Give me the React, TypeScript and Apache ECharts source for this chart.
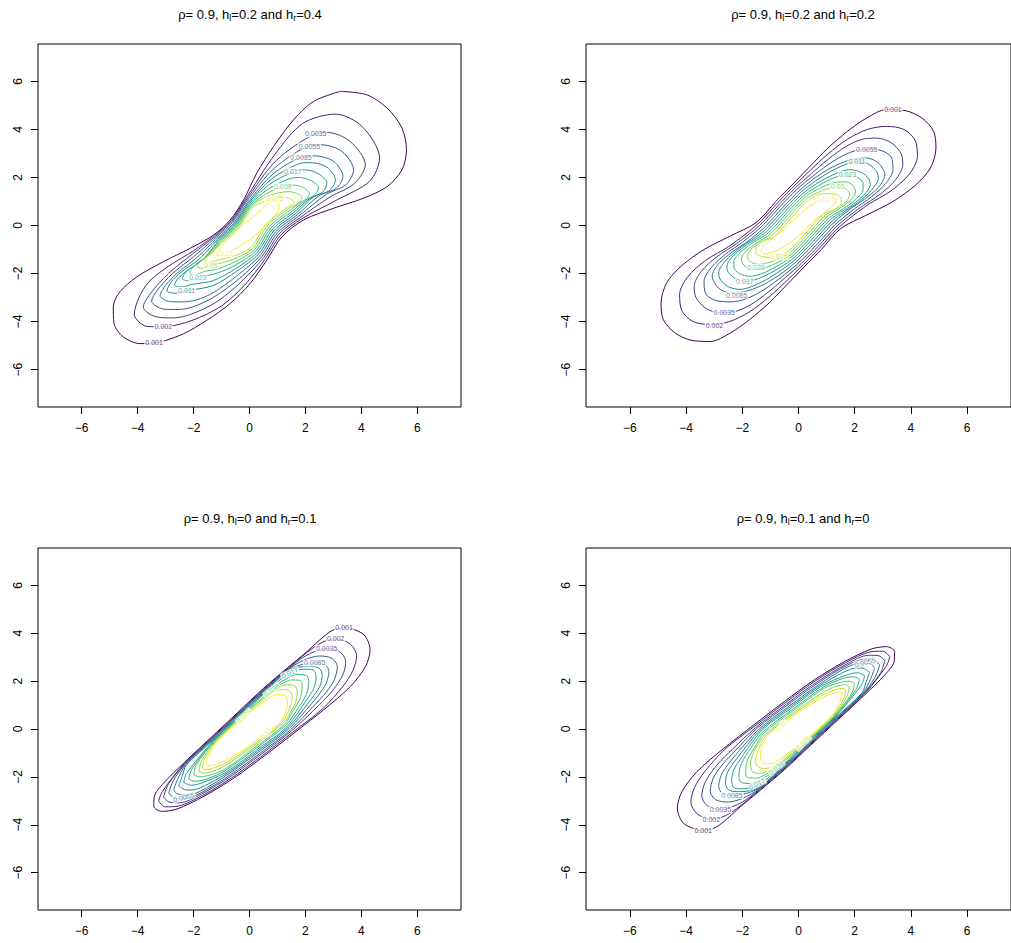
import React, { useEffect, useRef } from "react";
import * as echarts from "echarts";

const levels = ["0.001","0.002","0.0035","0.0055","0.0085","0.011","0.017","0.023","0.038","0.05","0.075","0.11"];
const levelColors = ["#440154","#482173","#433E85","#38598C","#2D708E","#25858E","#1E9B8A","#2BB07F","#51C56A","#85D54A","#C2DF23","#FDE725"];
const tickValues = [-6, -4, -2, 0, 2, 4, 6];
const axisMin = -7.56;
const axisMax = 7.56;

const panelRho = ["0.9", "0.9", "0.9", "0.9"];
const panelHl = ["0.2", "0.2", "0", "0.1"];
const panelHr = ["0.4", "0.2", "0.1", "0"];

// Panel 1 (hl=0.2, hr=0.4)
const p1c1 = [[3.25,5.59],[4.20,5.44],[4.92,4.89],[5.45,4.06],[5.61,3.15],[5.45,2.32],[4.92,1.62],[4.08,1.14],[3.01,0.72],[1.93,0.23],[1.16,-0.47],[0.62,-1.44],[0.02,-2.42],[-0.69,-3.25],[-1.53,-3.95],[-2.36,-4.51],[-3.20,-4.85],[-3.91,-4.92],[-4.51,-4.64],[-4.84,-4.09],[-4.87,-3.39],[-4.63,-2.76],[-4.03,-2.14],[-3.08,-1.51],[-2.12,-0.95],[-1.29,-0.40],[-0.69,0.23],[-0.21,1.07],[0.26,2.18],[0.86,3.29],[1.58,4.41],[2.29,5.17]];
const p1c2 = [[-1.26,-0.43],[-0.66,0.20],[-0.18,1.04],[0.90,2.95],[1.90,4.25],[3.07,4.64],[4.02,4.13],[4.65,2.81],[4.30,1.85],[3.10,1.05],[1.875,0.285],[1.105,-0.415],[0.565,-1.385],[-0.15,-2.45],[-1.00,-3.35],[-2.05,-3.95],[-3.08,-4.22],[-3.68,-4.20],[-4.12,-3.70],[-3.95,-3.00],[-3.60,-2.35],[-2.90,-1.70],[-2.00,-1.05]];
const p1c3 = [[-1.23,-0.46],[-0.63,0.17],[-0.15,1.01],[0.95,2.70],[2.35,3.82],[2.77,3.88],[3.60,3.50],[4.14,2.53],[3.75,1.75],[2.90,1.20],[1.82,0.34],[1.05,-0.36],[0.51,-1.33],[-0.30,-2.35],[-1.20,-3.20],[-2.10,-3.70],[-2.75,-3.85],[-3.35,-3.80],[-3.80,-3.40],[-3.55,-2.85],[-2.90,-2.00],[-2.05,-1.20]];
const p1c4 = [[-1.20,-0.49],[-0.60,0.14],[-0.12,0.98],[0.90,2.40],[2.17,3.32],[2.59,3.36],[3.31,3.08],[3.72,2.32],[3.45,1.70],[2.75,1.30],[1.765,0.395],[0.995,-0.305],[0.455,-1.275],[-0.35,-2.20],[-1.30,-3.00],[-2.05,-3.40],[-2.55,-3.50],[-3.08,-3.48],[-3.50,-3.15],[-3.30,-2.70],[-2.75,-2.00],[-2.00,-1.30]];
const p1c5 = [[-1.16,-0.53],[-0.56,0.10],[-0.08,0.94],[0.85,2.15],[1.87,2.85],[2.35,2.90],[3.01,2.67],[3.34,2.04],[3.10,1.55],[2.50,1.25],[1.71,0.45],[0.94,-0.25],[0.40,-1.22],[-0.40,-2.05],[-1.30,-2.80],[-1.90,-3.10],[-2.40,-3.18],[-2.85,-3.17],[-3.20,-2.92],[-3.00,-2.50],[-2.60,-2.00],[-1.90,-1.35]];
const p1c6 = [[-1.13,-0.56],[-0.53,0.07],[-0.05,0.91],[0.80,1.95],[1.72,2.55],[2.17,2.62],[2.77,2.43],[3.07,1.90],[2.85,1.45],[2.30,1.20],[1.655,0.505],[0.885,-0.195],[0.345,-1.165],[-0.45,-1.90],[-1.30,-2.50],[-2.25,-2.72],[-2.65,-2.82],[-2.95,-2.72],[-2.80,-2.35],[-2.45,-1.95],[-1.80,-1.40]];
const p1c7 = [[-1.10,-0.59],[-0.50,0.04],[-0.02,0.88],[0.70,1.70],[1.58,2.25],[1.96,2.32],[2.47,2.15],[2.77,1.76],[2.60,1.38],[2.15,1.12],[1.60,0.56],[0.83,-0.14],[0.29,-1.11],[-0.50,-1.80],[-1.30,-2.30],[-2.05,-2.45],[-2.40,-2.56],[-2.68,-2.48],[-2.55,-2.20],[-2.20,-1.85],[-1.65,-1.40]];
const p1c8 = [[-1.07,-0.62],[-0.47,0.01],[0.01,0.85],[0.65,1.50],[1.38,1.93],[1.79,2.00],[2.20,1.87],[2.47,1.59],[2.35,1.30],[2.00,1.05],[1.545,0.615],[0.775,-0.085],[0.235,-1.055],[-0.50,-1.65],[-1.20,-2.00],[-1.85,-2.17],[-2.18,-2.30],[-2.40,-2.22],[-2.30,-1.98],[-2.00,-1.70],[-1.55,-1.30]];
const p1c9 = [[-1.04,-0.65],[-0.44,-0.02],[0.04,0.82],[0.60,1.32],[1.19,1.62],[1.58,1.68],[1.90,1.59],[2.14,1.34],[2.05,1.12],[1.80,0.95],[1.49,0.67],[0.72,-0.03],[0.18,-1.00],[-0.50,-1.50],[-1.10,-1.80],[-1.62,-1.92],[-1.95,-2.05],[-2.13,-1.97],[-2.05,-1.78],[-1.80,-1.50],[-1.40,-1.18]];
const p1c10 = [[-1.01,-0.68],[-0.41,-0.05],[0.07,0.79],[0.55,1.17],[1.05,1.36],[1.40,1.41],[1.69,1.34],[1.87,1.18],[1.80,0.98],[1.435,0.725],[0.665,0.025],[0.125,-0.945],[-0.56,-1.40],[-1.38,-1.67],[-1.70,-1.78],[-1.87,-1.72],[-1.80,-1.55],[-1.55,-1.30],[-1.25,-1.00]];
const p1c11 = [[-0.975,-0.715],[-0.375,-0.085],[0.105,0.755],[0.55,1.00],[0.92,1.11],[1.19,1.18],[1.46,1.12],[1.60,0.95],[1.40,0.78],[0.61,0.08],[0.07,-0.89],[-0.50,-1.25],[-1.12,-1.43],[-1.45,-1.55],[-1.60,-1.47],[-1.50,-1.30],[-1.25,-1.05]];
const p1c12 = [[-0.26,0.00],[0.30,0.52],[0.62,0.90],[0.82,1.00],[1.04,0.92],[1.05,0.70],[0.74,0.23],[0.145,-0.47],[-0.57,-1.02],[-0.83,-1.18],[-1.05,-1.27],[-1.17,-1.23],[-1.00,-0.88]];
const p1Contours = [p1c1,p1c2,p1c3,p1c4,p1c5,p1c6,p1c7,p1c8,p1c9,p1c10,p1c11,p1c12];
const p1Labels = [[2,2.37,3.82,0],[3,2.14,3.31,0],[4,1.84,2.85,0],[6,1.55,2.27,0],[8,1.19,1.62,0],[10,0.90,1.11,0],[11,-0.83,-1.18,0],[9,-1.38,-1.67,0],[7,-1.85,-2.17,0],[5,-2.25,-2.70,0],[1,-3.08,-4.21,0],[0,-3.41,-4.86,0]];

// Panel 2 (hl=0.2, hr=0.2)
const p2c1 = [[-0.81,1.00],[-0.23,1.69],[0.35,2.39],[1.04,3.22],[1.74,3.92],[2.43,4.48],[3.13,4.83],[3.82,4.78],[4.40,4.47],[4.81,3.92],[4.89,3.22],[4.69,2.39],[4.17,1.69],[3.36,1.00],[2.43,0.44],[1.51,-0.12],[0.81,-1.00],[0.23,-1.69],[-0.35,-2.39],[-1.04,-3.22],[-1.74,-3.92],[-2.43,-4.48],[-3.13,-4.83],[-3.82,-4.78],[-4.40,-4.47],[-4.81,-3.92],[-4.89,-3.22],[-4.69,-2.39],[-4.17,-1.69],[-3.36,-1.00],[-2.43,-0.44],[-1.51,0.12]];
const p2c2 = [[-0.75,0.94],[-0.17,1.63],[0.40,2.28],[1.05,2.98],[1.75,3.60],[2.45,4.00],[3.13,4.13],[3.75,4.00],[4.15,3.55],[4.23,2.88],[3.95,2.15],[3.30,1.45],[2.45,0.85],[1.45,-0.06],[0.75,-0.94],[0.17,-1.63],[-0.40,-2.28],[-1.05,-2.98],[-1.75,-3.60],[-2.45,-4.00],[-3.13,-4.13],[-3.75,-4.00],[-4.15,-3.55],[-4.23,-2.88],[-3.95,-2.15],[-3.30,-1.45],[-2.45,-0.85],[-1.45,0.06]];
const p2c3 = [[-0.69,0.88],[-0.11,1.57],[0.45,2.15],[1.05,2.75],[1.70,3.30],[2.30,3.60],[2.78,3.64],[3.30,3.45],[3.65,3.00],[3.71,2.53],[3.45,1.90],[2.90,1.30],[2.20,0.75],[1.39,0.00],[0.69,-0.88],[0.11,-1.57],[-0.45,-2.15],[-1.05,-2.75],[-1.70,-3.30],[-2.30,-3.60],[-2.78,-3.64],[-3.30,-3.45],[-3.65,-3.00],[-3.71,-2.53],[-3.45,-1.90],[-2.90,-1.30],[-2.20,-0.75],[-1.39,0.00]];
const p2c4 = [[-0.63,0.82],[-0.05,1.51],[0.50,2.05],[1.20,2.65],[1.85,3.05],[2.43,3.18],[2.95,3.12],[3.30,2.85],[3.36,2.32],[3.10,1.75],[2.60,1.20],[2.00,0.70],[1.33,0.06],[0.63,-0.82],[0.05,-1.51],[-0.50,-2.05],[-1.20,-2.65],[-1.85,-3.05],[-2.43,-3.18],[-2.95,-3.12],[-3.30,-2.85],[-3.36,-2.32],[-3.10,-1.75],[-2.60,-1.20],[-2.00,-0.70],[-1.33,-0.06]];
const p2c5 = [[-0.56,0.75],[0.02,1.44],[0.55,1.95],[1.15,2.40],[1.80,2.72],[2.43,2.81],[2.85,2.60],[3.07,2.11],[2.85,1.60],[2.35,1.10],[1.80,0.65],[1.26,0.13],[0.56,-0.75],[-0.02,-1.44],[-0.55,-1.95],[-1.15,-2.40],[-1.80,-2.72],[-2.43,-2.81],[-2.85,-2.60],[-3.07,-2.11],[-2.85,-1.60],[-2.35,-1.10],[-1.80,-0.65],[-1.26,-0.13]];
const p2c6 = [[-0.50,0.69],[0.08,1.38],[0.60,1.85],[1.30,2.35],[2.08,2.66],[2.50,2.55],[2.78,2.25],[2.84,1.97],[2.58,1.45],[2.10,0.95],[1.60,0.55],[1.20,0.19],[0.50,-0.69],[-0.08,-1.38],[-0.60,-1.85],[-1.30,-2.35],[-2.08,-2.66],[-2.50,-2.55],[-2.78,-2.25],[-2.84,-1.97],[-2.58,-1.45],[-2.10,-0.95],[-1.60,-0.55],[-1.20,-0.19]];
const p2c7 = [[-0.44,0.63],[0.14,1.32],[0.65,1.75],[1.30,2.15],[1.85,2.33],[2.25,2.20],[2.50,1.95],[2.55,1.70],[2.35,1.30],[1.90,0.85],[1.50,0.55],[1.14,0.25],[0.44,-0.63],[-0.14,-1.32],[-0.65,-1.75],[-1.30,-2.15],[-1.85,-2.33],[-2.25,-2.20],[-2.50,-1.95],[-2.55,-1.70],[-2.35,-1.30],[-1.90,-0.85],[-1.50,-0.55],[-1.14,-0.25]];
const p2c8 = [[-0.38,0.57],[0.20,1.26],[0.70,1.65],[1.25,1.98],[1.74,2.12],[2.10,2.00],[2.30,1.75],[2.30,1.50],[2.05,1.10],[1.60,0.70],[1.08,0.31],[0.38,-0.57],[-0.20,-1.26],[-0.70,-1.65],[-1.25,-1.98],[-1.74,-2.12],[-2.10,-2.00],[-2.30,-1.75],[-2.30,-1.50],[-2.05,-1.10],[-1.60,-0.70],[-1.08,-0.31]];
const p2c9 = [[-0.32,0.51],[0.26,1.20],[0.75,1.55],[1.25,1.78],[1.68,1.82],[1.95,1.65],[2.03,1.40],[1.85,1.05],[1.45,0.70],[1.02,0.37],[0.32,-0.51],[-0.26,-1.20],[-0.75,-1.55],[-1.25,-1.78],[-1.68,-1.82],[-1.95,-1.65],[-2.03,-1.40],[-1.85,-1.05],[-1.45,-0.70],[-1.02,-0.37]];
const p2c10 = [[-0.26,0.45],[0.32,1.14],[0.85,1.45],[1.39,1.62],[1.70,1.52],[1.82,1.30],[1.70,1.00],[1.35,0.70],[0.96,0.43],[0.26,-0.45],[-0.32,-1.14],[-0.85,-1.45],[-1.39,-1.62],[-1.70,-1.52],[-1.82,-1.30],[-1.70,-1.00],[-1.35,-0.70],[-0.96,-0.43]];
const p2c11 = [[-0.20,0.39],[0.38,1.08],[0.90,1.33],[1.27,1.30],[1.52,1.15],[1.52,0.90],[1.25,0.65],[0.90,0.49],[0.20,-0.39],[-0.38,-1.08],[-0.90,-1.33],[-1.27,-1.30],[-1.52,-1.15],[-1.52,-0.90],[-1.25,-0.65],[-0.90,-0.49]];
const p2c12 = [[-0.21,0.21],[0.30,0.72],[0.87,1.09],[1.20,1.18],[1.33,1.05],[1.10,0.70],[0.50,0.15],[0.21,-0.21],[-0.30,-0.72],[-0.87,-1.09],[-1.20,-1.18],[-1.33,-1.05],[-1.10,-0.70],[-0.50,-0.15]];
const p2Contours = [p2c1,p2c2,p2c3,p2c4,p2c5,p2c6,p2c7,p2c8,p2c9,p2c10,p2c11,p2c12];
const p2Labels = [[0,3.36,4.82,0],[3,2.43,3.18,0],[5,2.08,2.66,0],[7,1.74,2.12,0],[9,1.39,1.62,0],[11,0.87,1.09,0],[10,-0.69,-1.30,0],[8,-1.51,-1.76,0],[6,-1.91,-2.34,0],[4,-2.20,-2.90,0],[2,-2.64,-3.64,0],[1,-2.99,-4.16,0]];

// Panel 3 (hl=0, hr=0.1)
const p3c1 = [[3.50,4.25],[4.09,3.94],[4.31,3.31],[4.15,2.62],[3.61,1.78],[2.66,0.81],[1.59,-0.17],[0.51,-1.14],[-0.56,-2.05],[-1.63,-2.81],[-2.59,-3.34],[-3.13,-3.44],[-3.42,-3.23],[-3.40,-2.81],[-3.07,-2.26],[-2.35,-1.42],[-1.40,-0.38],[-0.44,0.67],[0.51,1.71],[1.35,2.55],[2.06,3.24],[2.66,3.87],[3.02,4.15]];
const p3c2 = [[-3.25,-3.02],[-3.12,-2.62],[-2.33,-1.44],[-1.38,-0.40],[-0.42,0.65],[0.53,1.69],[1.37,2.53],[2.08,3.22],[2.60,3.62],[3.08,3.76],[3.60,3.55],[3.83,3.05],[3.70,2.45],[3.35,1.80],[2.62,0.85],[1.55,-0.13],[0.47,-1.10],[-0.60,-2.01],[-1.67,-2.77],[-2.55,-3.22],[-3.00,-3.25]];
const p3c3 = [[-3.07,-2.85],[-2.90,-2.30],[-2.31,-1.46],[-1.36,-0.42],[-0.40,0.63],[0.55,1.67],[1.39,2.51],[2.00,3.05],[2.76,3.36],[3.25,3.20],[3.44,2.80],[3.33,2.25],[2.98,1.62],[2.48,0.99],[1.50,-0.08],[0.42,-1.05],[-0.65,-1.96],[-1.72,-2.72],[-2.50,-3.08],[-2.88,-3.05]];
const p3c4 = [[-2.89,-2.67],[-2.72,-2.15],[-2.30,-1.47],[-1.35,-0.43],[-0.39,0.62],[0.56,1.66],[1.40,2.50],[1.95,2.88],[2.50,3.05],[2.95,2.95],[3.14,2.60],[3.03,2.05],[2.75,1.55],[2.39,1.08],[1.46,-0.04],[0.38,-1.01],[-0.69,-1.92],[-1.76,-2.68],[-2.40,-2.92],[-2.70,-2.88]];
const p3c5 = [[-2.71,-2.53],[-2.55,-2.05],[-2.28,-1.49],[-1.33,-0.45],[-0.37,0.60],[0.58,1.64],[1.42,2.48],[1.90,2.70],[2.33,2.76],[2.70,2.70],[2.84,2.40],[2.74,1.90],[2.52,1.50],[2.30,1.17],[1.41,0.01],[0.33,-0.96],[-0.74,-1.87],[-1.81,-2.63],[-2.30,-2.75],[-2.60,-2.70]];
const p3c6 = [[-2.53,-2.37],[-2.40,-1.95],[-2.26,-1.51],[-1.31,-0.47],[-0.35,0.58],[0.60,1.62],[1.44,2.46],[2.10,2.62],[2.48,2.55],[2.60,2.25],[2.52,1.80],[2.21,1.26],[1.37,0.05],[0.29,-0.92],[-0.78,-1.83],[-1.85,-2.50],[-2.25,-2.55]];
const p3c7 = [[-2.35,-2.23],[-2.25,-1.85],[-1.29,-0.49],[-0.33,0.56],[0.62,1.60],[1.44,2.34],[1.95,2.50],[2.30,2.45],[2.38,2.15],[2.30,1.70],[2.12,1.35],[1.33,0.09],[0.25,-0.88],[-0.82,-1.79],[-1.70,-2.25],[-2.10,-2.35]];
const p3c8 = [[-2.17,-2.09],[-2.05,-1.65],[-1.27,-0.51],[-0.31,0.54],[0.64,1.58],[1.25,2.05],[1.70,2.28],[2.05,2.22],[2.12,1.95],[2.03,1.44],[1.70,0.80],[1.28,0.14],[0.20,-0.83],[-0.87,-1.74],[-1.60,-2.12],[-1.95,-2.18]];
const p3c9 = [[-1.99,-1.91],[-1.90,-1.50],[-1.26,-0.52],[-0.30,0.53],[0.80,1.62],[1.20,1.92],[1.50,2.05],[1.85,2.00],[1.88,1.70],[1.80,1.25],[1.55,0.75],[1.24,0.18],[0.16,-0.79],[-0.91,-1.70],[-1.50,-1.95],[-1.80,-2.00]];
const p3c10 = [[-1.81,-1.77],[-1.72,-1.35],[-1.24,-0.54],[-0.28,0.51],[0.70,1.48],[1.05,1.74],[1.35,1.85],[1.62,1.80],[1.71,1.50],[1.62,1.05],[1.42,0.60],[1.19,0.23],[0.11,-0.74],[-0.90,-1.55],[-1.40,-1.80],[-1.65,-1.85]];
const p3c11 = [[-1.69,-1.63],[-1.60,-1.25],[-1.22,-0.56],[-0.22,0.51],[0.58,1.28],[0.95,1.60],[1.20,1.65],[1.45,1.58],[1.53,1.30],[1.42,0.85],[1.15,0.27],[0.07,-0.70],[-0.85,-1.42],[-1.35,-1.65],[-1.55,-1.70]];
const p3c12 = [[-1.57,-1.49],[-1.45,-1.10],[-1.20,-0.58],[-0.24,0.47],[0.48,1.10],[0.90,1.42],[1.10,1.45],[1.32,1.35],[1.35,1.05],[1.11,0.31],[0.57,-0.17],[0.03,-0.66],[-0.80,-1.28],[-1.25,-1.50],[-1.45,-1.55]];
const p3Contours = [p3c1,p3c2,p3c3,p3c4,p3c5,p3c6,p3c7,p3c8,p3c9,p3c10,p3c11,p3c12];
const p3Labels = [[0,3.38,4.25,0],[1,3.08,3.76,0],[2,2.76,3.36,0],[4,2.33,2.76,0],[6,1.44,2.34,25],[8,0.80,1.62,38],[10,-0.20,0.53,45],[11,0.57,-0.17,55],[3,-2.35,-2.85,15]];

// Panel 4 (hl=0.1, hr=0)
const p4c1 = [[-3.50,-4.25],[-4.09,-3.94],[-4.31,-3.31],[-4.15,-2.62],[-3.61,-1.78],[-2.66,-0.81],[-1.59,0.17],[-0.51,1.14],[0.56,2.05],[1.63,2.81],[2.59,3.34],[3.13,3.44],[3.42,3.23],[3.40,2.81],[3.07,2.26],[2.35,1.42],[1.40,0.38],[0.44,-0.67],[-0.51,-1.71],[-1.35,-2.55],[-2.06,-3.24],[-2.66,-3.87],[-3.02,-4.15]];
const p4c2 = [[3.25,3.02],[3.12,2.62],[2.33,1.44],[1.38,0.40],[0.42,-0.65],[-0.53,-1.69],[-1.37,-2.53],[-2.08,-3.22],[-2.60,-3.62],[-3.08,-3.76],[-3.60,-3.55],[-3.83,-3.05],[-3.70,-2.45],[-3.35,-1.80],[-2.62,-0.85],[-1.55,0.13],[-0.47,1.10],[0.60,2.01],[1.67,2.77],[2.55,3.22],[3.00,3.25]];
const p4c3 = [[3.07,2.85],[2.90,2.30],[2.31,1.46],[1.36,0.42],[0.40,-0.63],[-0.55,-1.67],[-1.39,-2.51],[-2.00,-3.05],[-2.76,-3.36],[-3.25,-3.20],[-3.44,-2.80],[-3.33,-2.25],[-2.98,-1.62],[-2.48,-0.99],[-1.50,0.08],[-0.42,1.05],[0.65,1.96],[1.72,2.72],[2.50,3.08],[2.88,3.05]];
const p4c4 = [[2.89,2.67],[2.72,2.15],[2.30,1.47],[1.35,0.43],[0.39,-0.62],[-0.56,-1.66],[-1.40,-2.50],[-1.95,-2.88],[-2.50,-3.05],[-2.95,-2.95],[-3.14,-2.60],[-3.03,-2.05],[-2.75,-1.55],[-2.39,-1.08],[-1.46,0.04],[-0.38,1.01],[0.69,1.92],[1.76,2.68],[2.40,2.92],[2.70,2.88]];
const p4c5 = [[2.71,2.53],[2.55,2.05],[2.28,1.49],[1.33,0.45],[0.37,-0.60],[-0.58,-1.64],[-1.42,-2.48],[-1.90,-2.70],[-2.33,-2.76],[-2.70,-2.70],[-2.84,-2.40],[-2.74,-1.90],[-2.52,-1.50],[-2.30,-1.17],[-1.41,-0.01],[-0.33,0.96],[0.74,1.87],[1.81,2.63],[2.30,2.75],[2.60,2.70]];
const p4c6 = [[2.53,2.37],[2.40,1.95],[2.26,1.51],[1.31,0.47],[0.35,-0.58],[-0.60,-1.62],[-1.44,-2.46],[-2.10,-2.62],[-2.48,-2.55],[-2.60,-2.25],[-2.52,-1.80],[-2.21,-1.26],[-1.37,-0.05],[-0.29,0.92],[0.78,1.83],[1.85,2.50],[2.25,2.55]];
const p4c7 = [[2.35,2.23],[2.25,1.85],[1.29,0.49],[0.33,-0.56],[-0.62,-1.60],[-1.44,-2.34],[-1.95,-2.50],[-2.30,-2.45],[-2.38,-2.15],[-2.30,-1.70],[-2.12,-1.35],[-1.33,-0.09],[-0.25,0.88],[0.82,1.79],[1.70,2.25],[2.10,2.35]];
const p4c8 = [[2.17,2.09],[2.05,1.65],[1.27,0.51],[0.31,-0.54],[-0.64,-1.58],[-1.25,-2.05],[-1.70,-2.28],[-2.05,-2.22],[-2.12,-1.95],[-2.03,-1.44],[-1.70,-0.80],[-1.28,-0.14],[-0.20,0.83],[0.87,1.74],[1.60,2.12],[1.95,2.18]];
const p4c9 = [[1.99,1.91],[1.90,1.50],[1.26,0.52],[0.30,-0.53],[-0.80,-1.62],[-1.20,-1.92],[-1.50,-2.05],[-1.85,-2.00],[-1.88,-1.70],[-1.80,-1.25],[-1.55,-0.75],[-1.24,-0.18],[-0.16,0.79],[0.91,1.70],[1.50,1.95],[1.80,2.00]];
const p4c10 = [[1.81,1.77],[1.72,1.35],[1.24,0.54],[0.28,-0.51],[-0.70,-1.48],[-1.05,-1.74],[-1.35,-1.85],[-1.62,-1.80],[-1.71,-1.50],[-1.62,-1.05],[-1.42,-0.60],[-1.19,-0.23],[-0.11,0.74],[0.90,1.55],[1.40,1.80],[1.65,1.85]];
const p4c11 = [[1.69,1.63],[1.60,1.25],[1.22,0.56],[0.22,-0.51],[-0.58,-1.28],[-0.95,-1.60],[-1.20,-1.65],[-1.45,-1.58],[-1.53,-1.30],[-1.42,-0.85],[-1.15,-0.27],[-0.07,0.70],[0.85,1.42],[1.35,1.65],[1.55,1.70]];
const p4c12 = [[1.57,1.49],[1.45,1.10],[1.20,0.58],[0.24,-0.47],[-0.48,-1.10],[-0.90,-1.42],[-1.10,-1.45],[-1.32,-1.35],[-1.35,-1.05],[-1.11,-0.31],[-0.57,0.17],[-0.03,0.66],[0.80,1.28],[1.25,1.50],[1.45,1.55]];
const p4Contours = [p4c1,p4c2,p4c3,p4c4,p4c5,p4c6,p4c7,p4c8,p4c9,p4c10,p4c11,p4c12];
const p4Labels = [[3,2.37,2.78,15],[11,-0.60,0.12,55],[10,0.17,-0.58,45],[8,-0.80,-1.62,38],[6,-1.48,-2.30,25],[4,-2.37,-2.78,0],[2,-2.78,-3.37,0],[1,-3.10,-3.76,0],[0,-3.39,-4.23,0]];

const panelContours = [p1Contours, p2Contours, p3Contours, p4Contours];
const panelLabels = [p1Labels, p2Labels, p3Labels, p4Labels];

const grids = [
  { left: 38, top: 44, width: 423, height: 363 },
  { left: 586, top: 44, width: 435, height: 363 },
  { left: 38, top: 548, width: 423, height: 362 },
  { left: 586, top: 548, width: 435, height: 362 },
];
const titleCenters = [[250, 14], [803, 14], [250, 518], [803, 518]];

const FONT = "'Liberation Sans', Arial, Helvetica, sans-serif";

function closeLoop(pts: number[][]) {
  if (!pts.length) return pts;
  return [...pts, pts[0]];
}

export default function App() {
  const ref = useRef<HTMLDivElement>(null);
  useEffect(() => {
    if (!ref.current) return;
    const chart = echarts.init(ref.current, undefined, { renderer: "svg" });
    const fmt = (v: number) => String(v).replace("-", "\u2212");
    const xAxes: any[] = [];
    const yAxes: any[] = [];
    const series: any[] = [];
    const graphics: any[] = [];
    grids.forEach((g, i) => {
      xAxes.push({
        type: "value", gridIndex: i, min: axisMin, max: axisMax,
        axisLine: { show: false, onZero: false },
        axisTick: { show: true, length: 7, customValues: tickValues, lineStyle: { color: "#000" } },
        axisLabel: { customValues: tickValues, formatter: fmt, fontSize: 12, color: "#000", margin: 15, fontFamily: FONT },
        splitLine: { show: false },
      });
      yAxes.push({
        type: "value", gridIndex: i, min: axisMin, max: axisMax,
        axisLine: { show: false, onZero: false },
        axisTick: { show: true, length: 7, customValues: tickValues, lineStyle: { color: "#000" } },
        axisLabel: { customValues: tickValues, formatter: fmt, fontSize: 12, color: "#000", margin: 14, rotate: 90, fontFamily: FONT },
        splitLine: { show: false },
      });
      panelContours[i].forEach((pts, k) => {
        if (!pts.length) return;
        series.push({
          type: "line", xAxisIndex: i, yAxisIndex: i, data: closeLoop(pts),
          showSymbol: false, smooth: 0.3, silent: true, z: 2,
          lineStyle: { color: levelColors[k], width: 1 },
        });
      });
      series.push({
        type: "scatter", xAxisIndex: i, yAxisIndex: i, symbolSize: 0, silent: true, z: 5,
        itemStyle: { color: "transparent" },
        data: panelLabels[i].map((l) => ({
          value: [l[1], l[2]],
          label: {
            show: true, position: "inside", formatter: levels[l[0]], color: levelColors[l[0]],
            fontSize: 7, fontFamily: FONT, backgroundColor: "#fff", padding: [0, 1], rotate: l[3],
          },
        })),
      });
      const tc = titleCenters[i];
      graphics.push({
        type: "text", x: tc[0], y: tc[1],
        style: {
          text: `{a|\u03c1= ${panelRho[i]}, h}{s|l}{a|=${panelHl[i]} and h}{s|r}{a|=${panelHr[i]}}`,
          align: "center", verticalAlign: "middle",
          rich: {
            a: { fontSize: 13, fontFamily: FONT, fill: "#000", lineHeight: 15 },
            s: { fontSize: 9, fontFamily: FONT, fill: "#000", lineHeight: 9, padding: [7, 0, 0, 0] },
          },
        },
      });
    });
    chart.setOption({
      animation: false,
      backgroundColor: "#fff",
      grid: grids.map((g) => ({ ...g, show: true, borderColor: "#000", borderWidth: 1, backgroundColor: "transparent" })),
      xAxis: xAxes,
      yAxis: yAxes,
      series,
      graphic: graphics,
    });
    return () => chart.dispose();
  }, []);
  return <div ref={ref} style={{ position: "absolute", left: 0, top: 0, width: 1011, height: 943, background: "#fff" }} />;
}
